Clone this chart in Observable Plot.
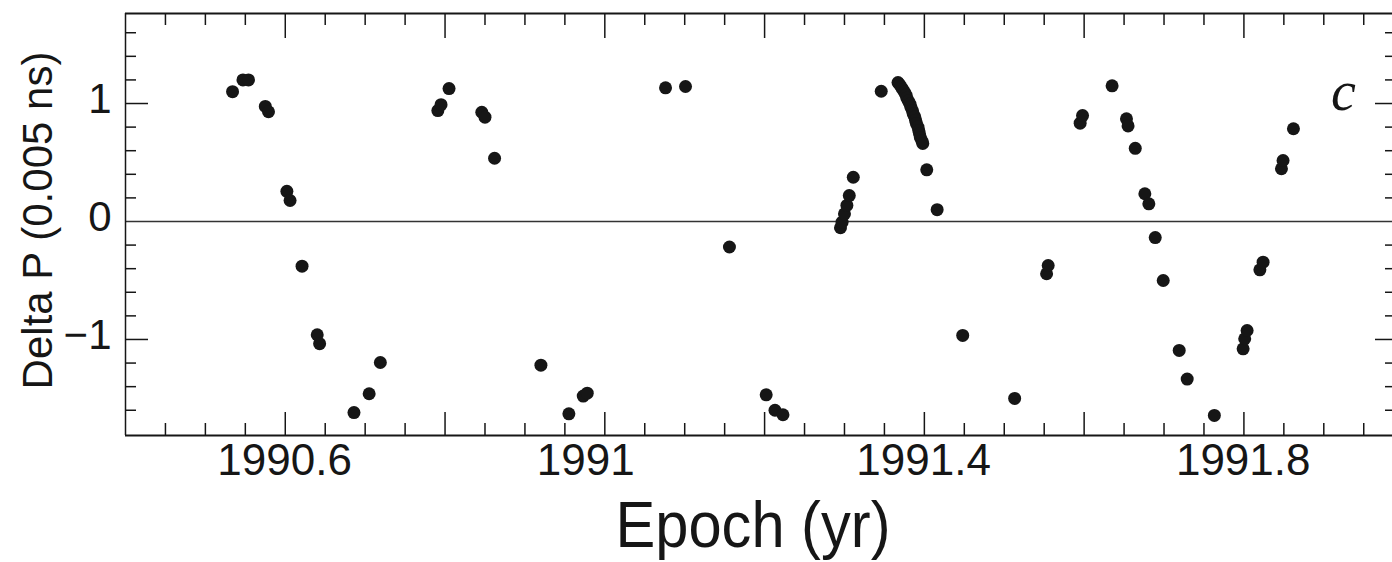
<!DOCTYPE html>
<html>
<head>
<meta charset="utf-8">
<script src="https://cdn.jsdelivr.net/npm/d3@7"></script>
<script src="https://cdn.jsdelivr.net/npm/@observablehq/plot@0.6"></script>
<style>
  html, body { margin: 0; padding: 0; background: #fff; overflow: hidden; }
</style>
</head>
<body>
<div id="chart"></div>
<script>
// ---- data ----
const epoch = [
  1990.534, 1990.547, 1990.554, 1990.575, 1990.579, 1990.602, 1990.606, 1990.621, 1990.640, 1990.643,
  1990.686, 1990.705, 1990.719, 1990.791, 1990.795, 1990.805, 1990.846, 1990.850, 1990.862, 1990.920,
  1990.955, 1990.973, 1990.978, 1991.076, 1991.101, 1991.156, 1991.202, 1991.213, 1991.223,
  1991.295, 1991.297, 1991.300, 1991.303, 1991.306, 1991.311, 1991.346,
  1991.367, 1991.369, 1991.371, 1991.373, 1991.375, 1991.377, 1991.378, 1991.380, 1991.382, 1991.383,
  1991.385, 1991.386, 1991.388, 1991.389, 1991.390, 1991.392, 1991.393, 1991.394, 1991.395, 1991.397, 1991.398,
  1991.403, 1991.416, 1991.448, 1991.513, 1991.553, 1991.555, 1991.595, 1991.598, 1991.635, 1991.653,
  1991.655, 1991.664, 1991.676, 1991.681, 1991.689, 1991.699, 1991.719, 1991.729, 1991.763, 1991.799,
  1991.801, 1991.804, 1991.820, 1991.824, 1991.847, 1991.849, 1991.862
];
const deltaP = [
  1.10, 1.20, 1.20, 0.975, 0.93, 0.256, 0.178, -0.379, -0.96, -1.036,
  -1.62, -1.46, -1.195, 0.94, 0.99, 1.127, 0.926, 0.884, 0.536, -1.218,
  -1.63, -1.48, -1.455, 1.133, 1.144, -0.216, -1.469, -1.60, -1.638,
  -0.053, -0.006, 0.065, 0.136, 0.22, 0.375, 1.104,
  1.178, 1.161, 1.140, 1.119, 1.097, 1.072, 1.047, 1.021, 0.996, 0.970,
  0.941, 0.913, 0.886, 0.858, 0.831, 0.801, 0.771, 0.742, 0.712, 0.682, 0.661,
  0.438, 0.10, -0.966, -1.50, -0.443, -0.373, 0.833, 0.898, 1.15, 0.87,
  0.81, 0.62, 0.235, 0.15, -0.136, -0.50, -1.093, -1.336, -1.644, -1.079,
  -0.994, -0.924, -0.41, -0.345, 0.447, 0.517, 0.786
];

const xDomain = [1990.4, 1991.986];
const yDomain = [-1.814, 1.763];
const xMajorTicks = [1990.6, 1990.8, 1991.0, 1991.2, 1991.4, 1991.6, 1991.8];
const xMinorTicks = [1990.45, 1990.5, 1990.55, 1990.65, 1990.7, 1990.75, 1990.85, 1990.9, 1990.95,
  1991.05, 1991.1, 1991.15, 1991.25, 1991.3, 1991.35, 1991.45, 1991.5, 1991.55,
  1991.65, 1991.7, 1991.75, 1991.85, 1991.9, 1991.95];
const xTickLabels = [1990.6, 1991.0, 1991.4, 1991.8];
const yMajorTicks = [-1, 1];
const yMinorTicks = [-1.6, -1.4, -1.2, -0.8, -0.6, -0.4, -0.2, 0.2, 0.4, 0.6, 0.8, 1.2, 1.4, 1.6];
const yTickLabels = [-1, 0, 1];
const xLabel = "Epoch (yr)";
const yLabel = "Delta P (0.005 ns)";
const panelTag = "c";

// ---- layout ----
const W = 1392, H = 562;
const mL = 125, mT = 13, mB = 127, mR = 0;
const PH = H - mT - mB;
const PW = W - mL - mR;
const ink = "#161616";

const points = epoch.map((e, i) => ({epoch: e, deltaP: deltaP[i]}));
const fmtX = d => String(+d.toFixed(1));
const fmtY = d => d < 0 ? "\u2212" + Math.abs(d) : String(d);

const plot = Plot.plot({
  width: W,
  height: H,
  marginLeft: mL,
  marginTop: mT,
  marginBottom: mB,
  marginRight: mR,
  x: {domain: xDomain, axis: null},
  y: {domain: yDomain, axis: null},
  style: {fontFamily: "'Liberation Sans', Arial, Helvetica, sans-serif", background: "#fff", color: ink},
  marks: [
    // zero line
    Plot.ruleY([0], {stroke: "#333", strokeWidth: 1.5}),
    // frame (top, left, bottom)
    Plot.ruleY([yDomain[1]], {stroke: ink, strokeWidth: 2}),
    Plot.ruleY([yDomain[0]], {stroke: ink, strokeWidth: 2}),
    Plot.ruleX([xDomain[0]], {stroke: ink, strokeWidth: 1.5}),
    // top ticks
    Plot.tickX(xMajorTicks, {x: d => d, insetBottom: PH - 25, stroke: ink, strokeWidth: 1.5}),
    Plot.tickX(xMinorTicks, {x: d => d, insetBottom: PH - 12, stroke: ink, strokeWidth: 1.5}),
    // bottom ticks
    Plot.tickX(xMajorTicks, {x: d => d, insetTop: PH - 23, stroke: ink, strokeWidth: 1.5}),
    Plot.tickX(xMinorTicks, {x: d => d, insetTop: PH - 12, stroke: ink, strokeWidth: 1.5}),
    // left ticks
    Plot.tickY(yMajorTicks, {y: d => d, insetRight: PW - 23, stroke: ink, strokeWidth: 1.5}),
    Plot.tickY(yMinorTicks, {y: d => d, insetRight: PW - 11, stroke: ink, strokeWidth: 1.5}),
    // right ticks
    Plot.tickY(yMajorTicks, {y: d => d, insetLeft: PW - 17, stroke: ink, strokeWidth: 1.5}),
    Plot.tickY(yMinorTicks, {y: d => d, insetLeft: PW - 7, stroke: ink, strokeWidth: 1.5}),
    // tick labels
    Plot.text(xTickLabels, {x: d => d, text: fmtX, frameAnchor: "bottom", textAnchor: "start",
      lineAnchor: "top", dx: -68, dy: 8, fontSize: 44, fill: ink}),
    Plot.text(yTickLabels, {y: d => d, text: fmtY, frameAnchor: "left", textAnchor: "end",
      dx: -14, dy: -4, fontSize: 42, fill: ink}),
    // axis labels
    Plot.text([yLabel], {frameAnchor: "left", textAnchor: "middle", lineAnchor: "middle",
      rotate: -90, dx: -87, dy: -4, fontSize: 42, fill: ink}),
    Plot.text([xLabel], {frameAnchor: "bottom", textAnchor: "middle", lineAnchor: "top",
      dx: -6, dy: 66, fontSize: 64, fill: ink}),
    // panel tag
    Plot.text([panelTag], {frameAnchor: "top-right", textAnchor: "middle", dx: -49, dy: 57, fontSize: 56,
      fontFamily: "'Liberation Serif', 'Times New Roman', serif", fontStyle: "italic", fill: ink}),
    // data points
    Plot.dot(points, {x: "epoch", y: "deltaP", r: 6.5, fill: ink, stroke: "none"})
  ]
});

d3.select(plot).selectAll("text")
  .filter(function () { return this.textContent === xLabel; })
  .attr("textLength", 275)
  .attr("lengthAdjust", "spacingAndGlyphs");

document.getElementById("chart").appendChild(plot);
</script>
</body>
</html>
